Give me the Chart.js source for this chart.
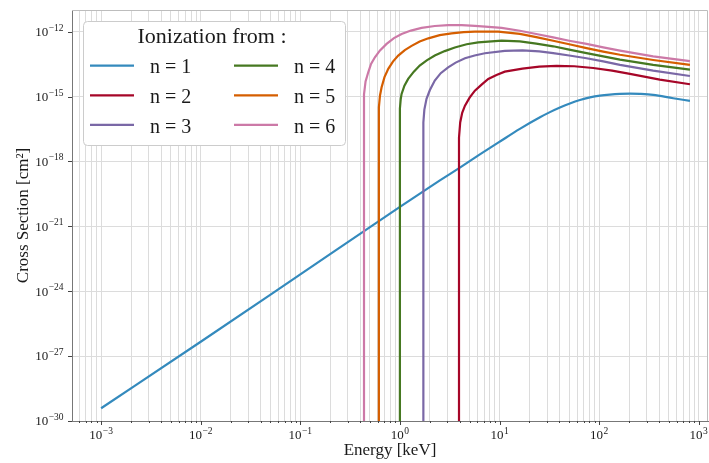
<!DOCTYPE html>
<html>
<head>
<meta charset="utf-8">
<script src="https://cdn.jsdelivr.net/npm/chart.js@4.4.1/dist/chart.umd.min.js"></script>
<style>
  html, body { margin: 0; padding: 0; background: #fff; }
  #wrap { width: 709px; height: 463px; position: relative; }
</style>
</head>
<body>
<div id="wrap"><canvas id="cs-chart"></canvas></div>
<script>
// ionization cross sections (cm^2) vs energy (keV), one pair of arrays per level n
var energyN1 = [1e-3, 1e-2, 0.1, 1, 2.52, 4.0, 6.35, 10.1, 16.0, 25.5, 32.1, 40.4, 50.9, 64.1, 80.9, 102, 128, 162, 204, 257, 349, 555, 817];
var sigmaN1  = [3.9e-30, 4.6e-27, 6.0e-24, 7.9e-21, 1.32e-19, 5.2e-19, 2.1e-18, 8.3e-18, 3.2e-17, 1.1e-16, 1.9e-16, 3.1e-16, 4.8e-16, 6.9e-16, 9.1e-16, 1.1e-15, 1.23e-15, 1.32e-15, 1.35e-15, 1.32e-15, 1.20e-15, 8.3e-16, 6.3e-16];

var energyN2 = [3.92, 3.92, 4.03, 4.22, 4.50, 5.01, 5.66, 6.61, 7.71, 9.33, 11.3, 17.0, 25.1, 37.4, 56.2, 87.3, 135, 204, 407, 817];
var sigmaN2  = [1e-30, 1.26e-17, 6.3e-17, 1.78e-16, 3.8e-16, 8.9e-16, 1.86e-15, 3.55e-15, 6.5e-15, 1.0e-14, 1.41e-14, 1.95e-14, 2.4e-14, 2.63e-14, 2.51e-14, 2.09e-14, 1.58e-14, 1.12e-14, 6.0e-15, 3.7e-15];

var energyN3 = [1.72, 1.72, 1.76, 1.85, 2.0, 2.24, 2.57, 3.05, 3.63, 4.50, 5.62, 7.13, 11.3, 17.0, 25.1, 34.6, 50.1, 74.8, 110, 162, 349, 817];
var sigmaN3  = [1e-30, 6.3e-17, 2.5e-16, 7.8e-16, 2.0e-15, 5.5e-15, 1.2e-14, 2.24e-14, 3.7e-14, 5.9e-14, 7.9e-14, 1.0e-13, 1.29e-13, 1.35e-13, 1.23e-13, 1.02e-13, 7.9e-14, 5.9e-14, 4.2e-14, 2.9e-14, 1.58e-14, 8.9e-15];

var energyN4 = [1.0, 1.0, 1.02, 1.04, 1.11, 1.21, 1.38, 1.58, 1.86, 2.24, 2.82, 3.56, 4.68, 6.11, 10.5, 16.0, 23.4, 34.6, 50.1, 74.8, 110, 162, 349, 817];
var sigmaN4  = [1e-30, 2.8e-16, 7.9e-16, 1.32e-15, 3.2e-15, 6.5e-15, 1.41e-14, 2.7e-14, 4.7e-14, 7.8e-14, 1.26e-13, 1.86e-13, 2.6e-13, 3.2e-13, 3.8e-13, 3.55e-13, 2.8e-13, 2.1e-13, 1.48e-13, 1.02e-13, 7.2e-14, 5.1e-14, 2.9e-14, 1.74e-14];

var energyN5 = [0.615, 0.615, 0.631, 0.655, 0.700, 0.764, 0.851, 0.962, 1.12, 1.31, 1.58, 1.93, 2.51, 3.30, 4.37, 5.66, 9.70, 16.0, 23.4, 34.6, 50.1, 74.8, 110, 162, 349, 817];
var sigmaN5  = [1e-30, 3.2e-16, 1.12e-15, 2.7e-15, 7.9e-15, 1.9e-14, 4.1e-14, 7.8e-14, 1.41e-13, 2.2e-13, 3.5e-13, 4.9e-13, 6.9e-13, 8.3e-13, 9.5e-13, 1.0e-12, 1.0e-12, 7.9e-13, 5.6e-13, 3.8e-13, 2.6e-13, 1.74e-13, 1.2e-13, 8.5e-14, 4.9e-14, 2.9e-14];

var energyN6 = [0.436, 0.436, 0.452, 0.481, 0.513, 0.561, 0.631, 0.735, 0.871, 1.04, 1.29, 1.65, 2.24, 3.05, 4.17, 5.66, 7.76, 10.5, 16.0, 23.4, 34.6, 50.1, 74.8, 110, 162, 349, 817];
var sigmaN6  = [1e-30, 1.26e-15, 5.0e-15, 1.32e-14, 3.2e-14, 6.5e-14, 1.35e-13, 2.7e-13, 5.0e-13, 7.8e-13, 1.12e-12, 1.48e-12, 1.82e-12, 2.0e-12, 2.0e-12, 1.86e-12, 1.66e-12, 1.48e-12, 1.1e-12, 7.8e-13, 5.4e-13, 3.8e-13, 2.7e-13, 1.86e-13, 1.32e-13, 7.2e-14, 4.3e-14];

var seriesLabels = ['n = 1', 'n = 2', 'n = 3', 'n = 4', 'n = 5', 'n = 6'];
var seriesColors = ['#348ABD', '#A60628', '#7A68A6', '#467821', '#D55E00', '#CC79A7'];

// axis ticks: value and the exponent shown on "10^k"
var xMajorTicks = [1e-3, 1e-2, 1e-1, 1, 10, 100, 1000];
var xTickExponents = ['\u22123', '\u22122', '\u22121', '0', '1', '2', '3'];
var yMajorTicks = [1e-30, 1e-27, 1e-24, 1e-21, 1e-18, 1e-15, 1e-12];
var yTickExponents = ['\u221230', '\u221227', '\u221224', '\u221221', '\u221218', '\u221215', '\u221212'];

var FONT = "'Liberation Serif', 'DejaVu Serif', serif";
var TEXT = '#1a1a1a';

function pts(xs, ys) {
    return xs.map(function(x, i) { return {x: x, y: ys[i]}; });
}

var allEnergy = [energyN1, energyN2, energyN3, energyN4, energyN5, energyN6];
var allSigma = [sigmaN1, sigmaN2, sigmaN3, sigmaN4, sigmaN5, sigmaN6];

// n = 1 goes last so it is painted first (chart.js paints dataset 0 on top)
var datasets = [];
for (var i = 5; i >= 0; i--) {
    datasets.push({
        label: seriesLabels[i],
        data: pts(allEnergy[i], allSigma[i]),
        borderColor: seriesColors[i],
        backgroundColor: seriesColors[i],
        borderWidth: 2.2,
        pointRadius: 0,
        showLine: true,
        fill: false,
        // the threshold curves start with a vertical drop, keep those straight
        cubicInterpolationMode: i === 0 ? 'monotone' : 'default',
        tension: 0
    });
}

function drawPower(ctx, exp, x, y, align) {
    ctx.font = '13px ' + FONT;
    var wBase = ctx.measureText('10').width;
    ctx.font = '9.5px ' + FONT;
    var wExp = ctx.measureText(exp).width;
    var total = wBase + wExp + 0.5;
    var x0 = align === 'right' ? x - total : x - total / 2;
    ctx.textAlign = 'left';
    ctx.textBaseline = 'alphabetic';
    ctx.font = '13px ' + FONT;
    ctx.fillText('10', x0, y);
    ctx.font = '9.5px ' + FONT;
    ctx.fillText(exp, x0 + wBase + 0.5, y - 5.3);
}

// spines, tick marks and 10^k labels
var axesDecor = {
    id: 'axesDecor',
    afterDraw: function(chart) {
        var ctx = chart.ctx, a = chart.chartArea;
        var xs = chart.scales.x, ys = chart.scales.y;
        ctx.save();
        ctx.lineWidth = 1;
        ctx.strokeStyle = '#bdbdbd';
        ctx.beginPath();
        ctx.moveTo(a.left, a.top + 0.5);
        ctx.lineTo(a.right - 0.5, a.top + 0.5);
        ctx.lineTo(a.right - 0.5, a.bottom);
        ctx.stroke();

        ctx.strokeStyle = '#444';
        ctx.beginPath();
        xs.ticks.forEach(function(t) {
            var px = Math.round(xs.getPixelForValue(t.value)) + 0.5;
            var len = xMajorTicks.indexOf(t.value) >= 0 ? 4 : 2;
            ctx.moveTo(px, a.bottom);
            ctx.lineTo(px, a.bottom + len);
        });
        yMajorTicks.forEach(function(v) {
            var py = Math.round(ys.getPixelForValue(v)) + 0.5;
            ctx.moveTo(a.left - 4, py);
            ctx.lineTo(a.left, py);
        });
        ctx.stroke();

        ctx.fillStyle = TEXT;
        xMajorTicks.forEach(function(v, i) {
            drawPower(ctx, xTickExponents[i], xs.getPixelForValue(v), a.bottom + 18, 'center');
        });
        yMajorTicks.forEach(function(v, i) {
            drawPower(ctx, yTickExponents[i], a.left - 8.5, ys.getPixelForValue(v) + 4.3, 'right');
        });
        ctx.restore();
    }
};

// legend box in the upper left, two columns like the original
var boxLegend = {
    id: 'boxLegend',
    afterDraw: function(chart) {
        var ctx = chart.ctx, a = chart.chartArea;
        var bx = a.left + 11, by = a.top + 11, bw = 262, bh = 124;
        ctx.save();
        ctx.beginPath();
        ctx.roundRect(bx + 0.5, by + 0.5, bw, bh, 4);
        ctx.fillStyle = '#ffffff';
        ctx.fill();
        ctx.strokeStyle = '#cccccc';
        ctx.lineWidth = 1;
        ctx.stroke();

        ctx.fillStyle = TEXT;
        ctx.font = '22px ' + FONT;
        ctx.textAlign = 'center';
        ctx.textBaseline = 'alphabetic';
        ctx.fillText('Ionization from :', bx + 129, by + 21.7);

        ctx.font = '20px ' + FONT;
        ctx.textAlign = 'left';
        for (var i = 0; i < seriesLabels.length; i++) {
            var col = Math.floor(i / 3), row = i % 3;
            var lx = bx + 7 + col * 144;
            var ly = by + 44.7 + row * 29.6;
            ctx.strokeStyle = seriesColors[i];
            ctx.lineWidth = 2.2;
            ctx.beginPath();
            ctx.moveTo(lx, ly);
            ctx.lineTo(lx + 44, ly);
            ctx.stroke();
            ctx.fillText(seriesLabels[i], lx + 60, ly + 7.6);
        }
        ctx.restore();
    }
};

var ctx = document.getElementById('cs-chart');

var csChart = new Chart(ctx, {
    type: 'scatter',
    data: { datasets: datasets },
    options: {
        animation: false,
        responsive: true,
        maintainAspectRatio: false,
        devicePixelRatio: 1,
        layout: { padding: { top: 10, right: 1, left: 0, bottom: 0 } },
        plugins: {
            legend: { display: false },
            tooltip: { enabled: false }
        },
        scales: {
            x: {
                type: 'logarithmic',
                position: 'bottom',
                min: 5.1e-4,
                max: 1240,
                afterBuildTicks: function(scale) {
                    var ticks = [];
                    [1e-4].concat(xMajorTicks).forEach(function(d) {
                        for (var m = 1; m <= 9; m++) {
                            var v = d * m;
                            if (v >= scale.min && v <= scale.max) ticks.push({ value: v });
                        }
                    });
                    scale.ticks = ticks;
                },
                afterFit: function(scale) { scale.height = 42; },
                ticks: { display: false, autoSkip: false },
                grid: { color: '#dcdcdc', lineWidth: 1, drawTicks: false },
                border: { color: '#777', width: 1 },
                title: {
                    display: true,
                    text: 'Energy [keV]',
                    color: TEXT,
                    font: { family: FONT, size: 17 },
                    padding: { top: 0, bottom: 2 }
                }
            },
            y: {
                type: 'logarithmic',
                position: 'left',
                min: 1e-30,
                max: 1e-11,
                afterBuildTicks: function(scale) {
                    scale.ticks = yMajorTicks.map(function(v) { return { value: v }; });
                },
                afterFit: function(scale) { scale.width = 72; },
                ticks: { display: false, autoSkip: false },
                grid: { color: '#dcdcdc', lineWidth: 1, drawTicks: false },
                border: { color: '#777', width: 1 },
                title: {
                    display: true,
                    text: 'Cross Section [cm\u00b2]',
                    color: TEXT,
                    font: { family: FONT, size: 17 },
                    padding: { top: 13, bottom: 0 }
                }
            }
        }
    },
    plugins: [axesDecor, boxLegend]
});
</script>
</body>
</html>
